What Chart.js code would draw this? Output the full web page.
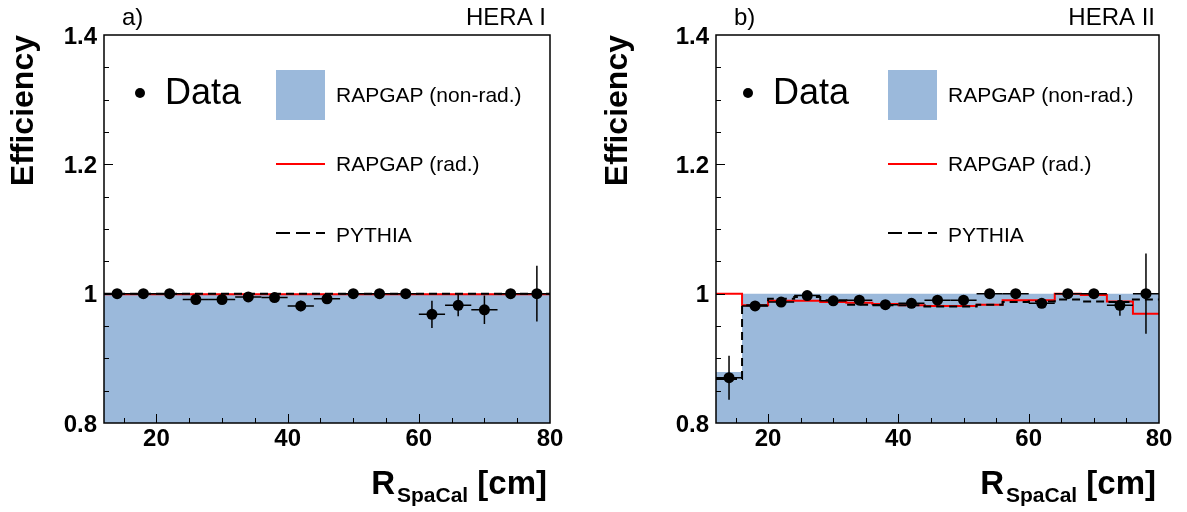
<!DOCTYPE html>
<html>
<head>
<meta charset="utf-8">
<script src="https://cdn.jsdelivr.net/npm/chart.js@4"></script>
<style>
  body { margin: 0; background: #fff; }
  .panel { position: absolute; top: 0; width: 594px; height: 512px; }
</style>
</head>
<body>
<div class="panel" style="left:0"><canvas id="c1" width="594" height="512"></canvas></div>
<div class="panel" style="left:594px"><canvas id="c2" width="593" height="512"></canvas></div>
<script>
// bin edges (cm) and data points at bin centres
const binEdges = [12, 16, 20, 24, 28, 32, 36, 40, 44, 48, 52, 56, 60, 64, 68, 72, 76, 80];
const binCentres = [14, 18, 22, 26, 30, 34, 38, 42, 46, 50, 54, 58, 62, 66, 70, 74, 78];

// HERA I
const dataHera1 = [1.000, 1.000, 1.000, 0.991, 0.991, 0.995, 0.994, 0.981, 0.992, 1.000, 1.000, 1.000, 0.968, 0.982, 0.975, 1.000, 1.000];
const errHera1 = [0.002, 0.002, 0.002, 0.003, 0.003, 0.003, 0.003, 0.008, 0.003, 0.002, 0.002, 0.002, 0.021, 0.017, 0.022, 0.005, 0.043];
const nonradHera1 = [1.000, 1.000, 1.000, 1.000, 1.000, 1.000, 1.000, 1.000, 1.000, 1.000, 1.000, 1.000, 1.000, 1.000, 1.000, 1.000, 1.000];
const radHera1 = [0.999, 0.999, 0.999, 0.999, 0.999, 0.999, 0.999, 0.999, 0.999, 0.999, 0.999, 0.999, 0.999, 0.999, 0.999, 0.999, 0.999];
const pythiaHera1 = [1.000, 1.000, 1.000, 1.000, 1.000, 1.000, 1.000, 1.000, 1.000, 1.000, 1.000, 1.000, 1.000, 1.000, 1.000, 1.000, 1.000];

// HERA II
const dataHera2 = [0.870, 0.981, 0.987, 0.997, 0.989, 0.990, 0.983, 0.985, 0.990, 0.990, 1.000, 1.000, 0.985, 1.000, 1.000, 0.982, 1.000];
const errHera2 = [0.034, 0.003, 0.003, 0.003, 0.003, 0.003, 0.003, 0.003, 0.003, 0.003, 0.003, 0.003, 0.004, 0.003, 0.003, 0.016, 0.062];
const nonradHera2 = [0.879, 1.000, 1.000, 1.000, 1.000, 1.000, 1.000, 1.000, 1.000, 1.000, 1.000, 1.000, 1.000, 1.000, 1.000, 1.000, 1.000];
const radHera2 = [1.000, 0.982, 0.989, 0.989, 0.987, 0.986, 0.984, 0.982, 0.981, 0.981, 0.983, 0.990, 0.990, 1.000, 0.998, 0.988, 0.969];
const pythiaHera2 = [0.868, 0.982, 0.992, 0.995, 0.990, 0.983, 0.982, 0.982, 0.980, 0.980, 0.983, 0.987, 0.988, 0.991, 0.988, 0.987, 0.991];

const yTicks = [0.8, 1.0, 1.2, 1.4];
const xTicks = [20, 40, 60, 80];

const FONT = '"Liberation Sans", Arial, sans-serif';
const BLUE = '#9bb9db';

// step histogram points: one point per left edge, last value repeated at right edge
function steps(vals) {
  const pts = vals.map((v, i) => ({ x: binEdges[i], y: v }));
  pts.push({ x: binEdges[binEdges.length - 1], y: vals[vals.length - 1] });
  return pts;
}

// inward ticks, error bars, legend and x title (with subscript)
const decor = {
  id: 'decor',
  beforeDatasetDraw(chart, args) {
    // error bars go just under the data markers
    if (args.index !== 3) return;
    const { ctx, scales: { x, y } } = chart;
    ctx.save();
    ctx.strokeStyle = '#000';
    ctx.lineWidth = 1.5;
    chart.data.datasets[3].data.forEach((p) => {
      const px = x.getPixelForValue(p.x), py = y.getPixelForValue(p.y);
      ctx.beginPath();
      ctx.moveTo(x.getPixelForValue(p.x - 2), py);
      ctx.lineTo(x.getPixelForValue(p.x + 2), py);
      ctx.moveTo(px, y.getPixelForValue(p.y - p.e));
      ctx.lineTo(px, y.getPixelForValue(p.y + p.e));
      ctx.stroke();
    });
    ctx.restore();
  },
  afterDraw(chart) {
    const { ctx, chartArea: a, scales: { x, y } } = chart;
    const o = chart.options.plugins.decor;
    ctx.save();
    // frame
    ctx.strokeStyle = '#000';
    ctx.lineWidth = 1.5;
    ctx.strokeRect(a.left, a.top, a.right - a.left, a.bottom - a.top);
    // ticks pointing inward
    ctx.lineWidth = 1;
    ctx.beginPath();
    for (let v = 15; v < 80; v += 5) {
      const px = Math.round(x.getPixelForValue(v)) + 0.5;
      const len = v % 20 === 0 ? 9 : 5;
      ctx.moveTo(px, a.bottom);
      ctx.lineTo(px, a.bottom - len);
    }
    for (let k = 17; k < 28; k++) {
      const py = Math.round(y.getPixelForValue(k * 0.05)) + 0.5;
      const len = k % 4 === 0 ? 9 : 5;
      ctx.moveTo(a.left, py);
      ctx.lineTo(a.left + len, py);
    }
    ctx.stroke();

    // panel labels
    ctx.fillStyle = '#000';
    ctx.font = '24px ' + FONT;
    ctx.textBaseline = 'alphabetic';
    ctx.textAlign = 'left';
    ctx.fillText(o.tag, a.left + 18, a.top - 10);
    ctx.textAlign = 'right';
    ctx.fillText(o.era, a.right - 4, a.top - 10);

    // x title with subscript
    ctx.font = 'bold 33px ' + FONT;
    const tail = ' [cm]';
    const wTail = ctx.measureText(tail).width;
    const wR = ctx.measureText('R').width;
    ctx.font = 'bold 21px ' + FONT;
    const sub = 'SpaCal';
    const wSub = ctx.measureText(sub).width;
    const xEnd = a.right - 3, base = 494;
    ctx.textAlign = 'left';
    ctx.font = 'bold 33px ' + FONT;
    ctx.fillText(tail, xEnd - wTail, base);
    ctx.fillText('R', xEnd - wTail - wSub - wR - 2, base);
    ctx.font = 'bold 21px ' + FONT;
    ctx.fillText(sub, xEnd - wTail - wSub, base + 8);

    // legend
    const lx = a.left, ty = a.top;
    ctx.beginPath();
    ctx.arc(lx + o.dot, ty + 58, 5, 0, Math.PI * 2);
    ctx.fill();
    ctx.font = '36px ' + FONT;
    ctx.textBaseline = 'middle';
    ctx.fillText('Data', lx + o.dot + 25, ty + 59);
    ctx.fillStyle = BLUE;
    ctx.fillRect(lx + 172, ty + 35, 49, 50);
    ctx.fillStyle = '#000';
    ctx.font = '21px ' + FONT;
    ctx.fillText('RAPGAP (non-rad.)', lx + 232, ty + 61);
    ctx.fillText('RAPGAP (rad.)', lx + 232, ty + 130);
    ctx.fillText('PYTHIA', lx + 232, ty + 201);
    ctx.lineWidth = 2;
    ctx.strokeStyle = '#ff0000';
    ctx.beginPath();
    ctx.moveTo(lx + 172, ty + 129);
    ctx.lineTo(lx + 221, ty + 129);
    ctx.stroke();
    ctx.strokeStyle = '#000';
    ctx.setLineDash([14, 6]);
    ctx.beginPath();
    ctx.moveTo(lx + 172, ty + 198);
    ctx.lineTo(lx + 221, ty + 198);
    ctx.stroke();
    ctx.restore();
  }
};

function makeChart(id, left, right, data, err, nonrad, rad, pythia, tag, era, dot) {
  const pts = binCentres.map((c, i) => ({ x: c, y: data[i], e: err[i] }));
  return new Chart(document.getElementById(id), {
    type: 'line',
    data: {
      datasets: [
        { label: 'RAPGAP (non-rad.)', data: steps(nonrad), stepped: 'before', fill: 'start', order: 3,
          backgroundColor: BLUE, borderColor: BLUE, borderWidth: 0, pointRadius: 0 },
        { label: 'RAPGAP (rad.)', data: steps(rad), stepped: 'before', fill: false, order: 2,
          borderColor: '#ff0000', borderWidth: 2, pointRadius: 0 },
        { label: 'PYTHIA', data: steps(pythia), stepped: 'before', fill: false, order: 1,
          borderColor: '#000', borderWidth: 2, borderDash: [8, 5], pointRadius: 0 },
        { label: 'Data', data: pts, showLine: false, order: 0, pointRadius: 5.5,
          pointBackgroundColor: '#000', pointBorderWidth: 0 }
      ]
    },
    options: {
      responsive: false,
      animation: false,
      layout: { padding: { left: 0, right: right, top: 35, bottom: 0 } },
      scales: {
        x: {
          type: 'linear', min: 12, max: 80,
          afterFit: (s) => { s.height = 512 - 35 - 388; },
          grid: { display: false, drawTicks: false },
          border: { display: false },
          afterBuildTicks: (s) => { s.ticks = xTicks.map(v => ({ value: v })); },
          ticks: { padding: 2, color: '#000', font: { family: FONT, size: 24, weight: 'bold' },
            maxRotation: 0, autoSkip: false }
        },
        y: {
          min: 0.8, max: 1.4,
          afterFit: (s) => { s.width = left; },
          grid: { display: false, drawTicks: false },
          border: { display: false },
          afterBuildTicks: (s) => { s.ticks = yTicks.map(v => ({ value: v })); },
          ticks: { padding: 7, labelOffset: 2, color: '#000', font: { family: FONT, size: 24, weight: 'bold' },
            callback: (v) => String(+v.toFixed(2)) },
          title: { display: true, text: 'Efficiency', align: 'end', color: '#000',
            font: { family: FONT, size: 32, weight: 'bold' }, padding: { top: 5 } }
        }
      },
      plugins: {
        legend: { display: false },
        tooltip: { enabled: false },
        decor: { tag: tag, era: era, dot: dot }
      }
    },
    plugins: [decor]
  });
}

makeChart('c1', 104, 44, dataHera1, errHera1, nonradHera1, radHera1, pythiaHera1, 'a)', 'HERA I', 36);
makeChart('c2', 122, 28, dataHera2, errHera2, nonradHera2, radHera2, pythiaHera2, 'b)', 'HERA II', 32);
</script>
</body>
</html>
